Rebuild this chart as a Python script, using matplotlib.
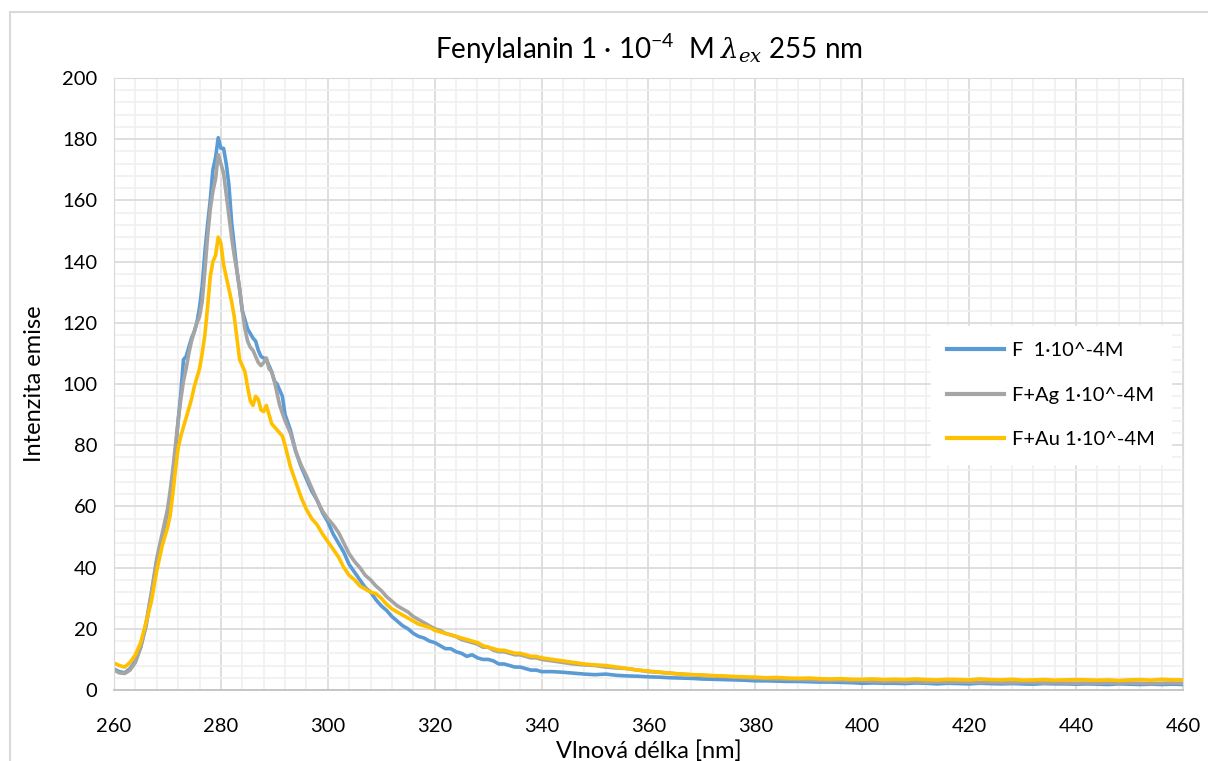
import matplotlib
matplotlib.use("Agg")
import matplotlib.pyplot as plt
from matplotlib.ticker import MultipleLocator
from matplotlib.lines import Line2D
import numpy as np

plt.rcParams['font.family'] = ['Lato', 'DejaVu Sans']
plt.rcParams['mathtext.fontset'] = 'custom'
plt.rcParams['mathtext.rm'] = 'Lato'
plt.rcParams['mathtext.it'] = 'DejaVu Serif:italic'

# vlnove delky: 1 nm do 270, 0.5 nm kolem piku, 1 nm do 340, pak po 2 nm
wl = np.concatenate([np.arange(260, 270.5, 1.0),
                     np.arange(270.5, 292.25, 0.5),
                     np.arange(293, 340.5, 1.0),
                     np.arange(342, 460.5, 2.0)])

f_only = [6.8, 6.0, 5.6, 7.0, 9.5, 14, 21, 31, 42, 50, 58,
          63, 70, 78, 88, 97, 108, 109, 112, 115, 117,
          120, 125, 132, 143, 152, 160, 170, 174, 180.5, 177,
          177, 172, 165, 153, 145, 137, 131, 124, 121, 118,
          116.5, 115, 114, 111, 109, 108.5, 108, 106, 104, 101,
          100, 98, 96, 90,
          85, 78, 73, 69, 65, 62, 58, 55, 51, 48,
          45, 41, 38.5, 36, 33.5, 32, 29.5, 27.5, 26, 24,
          22.5, 21, 20, 18.5, 17.5, 17, 16, 15.5, 14.5, 13.5,
          13.5, 12.5, 12, 11, 11.5, 10.5, 10, 10, 9.5, 8.5,
          8.5, 8, 7.5, 7.5, 7, 6.5, 6.5, 6,
          6, 5.8, 5.5, 5.2, 5, 5.2, 4.8, 4.6, 4.5, 4.3,
          4.2, 4.0, 3.9, 3.8, 3.6, 3.5, 3.4, 3.3, 3.2, 3.0,
          3.0, 2.9, 2.8, 2.8, 2.7, 2.6, 2.6, 2.5, 2.4, 2.2,
          2.3, 2.2, 2.2, 2.1, 2.3, 2.2, 2.0, 2.2, 2.1, 2.0,
          2.2, 2.1, 2.0, 2.1, 2.0, 1.9, 2.1, 2.0, 2.0, 1.9,
          2.0, 1.9, 1.8, 2.0, 1.9, 1.8, 1.9, 1.8, 1.9, 1.8]

f_ag = [6.5, 5.6, 5.4, 6.5, 9.0, 14, 22, 32, 43, 51, 59,
        65, 72, 80, 88, 95, 101, 105, 110, 114, 117,
        120, 122, 127, 137, 148, 157, 163, 167, 175, 172,
        169, 162, 155, 148, 142, 137, 131, 124, 118, 114,
        112, 111, 109, 107, 106, 107, 108.5, 105, 104, 101,
        97, 93, 90.5, 88,
        84, 78, 73.5, 70, 66, 62, 58.5, 56, 54, 51.5,
        48, 44.5, 42, 40, 37.5, 36, 34, 32.5, 30.5, 29,
        27.5, 26.5, 25.5, 24, 23, 22, 21, 20, 19.5, 18.5,
        18, 17.5, 16.5, 16, 15.5, 15, 14, 14, 13, 12.5,
        12.5, 12, 11.5, 11.5, 11, 10.5, 10.5, 10,
        9.5, 9, 8.5, 8.2, 8, 7.5, 7.2, 7, 6.5, 6,
        5.8, 5.5, 5.2, 5, 4.8, 4.6, 4.4, 4.2, 4, 3.8,
        3.7, 3.6, 3.5, 3.4, 3.3, 3.2, 3.1, 3.1, 3.0, 3.0,
        2.8, 2.7, 2.8, 2.6, 2.7, 2.5, 2.6, 2.5, 2.6, 2.5,
        2.4, 2.5, 2.4, 2.3, 2.5, 2.4, 2.3, 2.4, 2.3, 2.2,
        2.3, 2.2, 2.3, 2.2, 2.3, 2.2, 2.1, 2.2, 2.3, 2.2]

f_au = [8.8, 8.0, 7.5, 9.0, 11.5, 15.5, 22, 29, 39, 47, 53,
        57, 64, 72, 79, 83, 86, 89, 92, 95, 99,
        102, 105, 110, 116, 125, 135, 140, 142, 148, 146,
        139, 135, 131, 127, 122, 115, 108, 106, 104, 99,
        94.5, 93, 96, 95, 91.5, 91, 93, 90, 87, 86,
        85, 84, 83, 80,
        73, 68, 63, 59, 56, 54, 51, 48.5, 46, 43.5,
        40, 37.5, 36, 34, 33, 32, 31.5, 30, 28, 26.5,
        25.5, 24.5, 23.5, 22.5, 21.5, 21, 20.5, 19.5, 19, 18.5,
        18, 17.5, 17, 16.5, 16, 15.5, 14.5, 14, 13.5, 13,
        13, 12.5, 12, 12, 11.5, 11, 11, 10.5,
        10, 9.5, 9, 8.5, 8.2, 8, 7.5, 7, 6.5, 6.2,
        5.8, 5.5, 5.2, 5, 4.9, 4.7, 4.6, 4.4, 4.3, 4.2,
        4.0, 4.1, 3.9, 3.8, 3.9, 3.7, 3.6, 3.7, 3.5, 3.5,
        3.6, 3.4, 3.5, 3.4, 3.6, 3.4, 3.3, 3.5, 3.4, 3.3,
        3.6, 3.4, 3.3, 3.5, 3.2, 3.3, 3.4, 3.2, 3.3, 3.4,
        3.3, 3.2, 3.3, 3.1, 3.3, 3.4, 3.2, 3.5, 3.3, 3.3]

labels = ['F  1·10^-4M', 'F+Ag 1·10^-4M', 'F+Au 1·10^-4M']
colors = ['#5B9BD5', '#A5A5A5', '#FFC000']

fig = plt.figure(figsize=(12.08, 7.61), dpi=100)
# ramecek grafu
fig.add_artist(Line2D([10/1208, 10/1208], [0, 1 - 12/761], transform=fig.transFigure,
                      color='#d9d9d9', lw=1.5))
fig.add_artist(Line2D([10/1208, 1], [1 - 12/761, 1 - 12/761], transform=fig.transFigure,
                      color='#d9d9d9', lw=1.5))

ax = fig.add_axes([114/1208, 1 - 690/761, (1183 - 114)/1208, (690 - 78)/761])

for y, lab, c in zip([f_only, f_ag, f_au], labels, colors):
    ax.plot(wl, y, color=c, lw=2.6, label=lab, solid_joinstyle='round')

ax.set_xlim(260, 460)
ax.set_ylim(0, 200)
ax.xaxis.set_major_locator(MultipleLocator(20))
ax.xaxis.set_minor_locator(MultipleLocator(4))
ax.yaxis.set_major_locator(MultipleLocator(20))
ax.yaxis.set_minor_locator(MultipleLocator(4))
ax.grid(which='major', color='#d9d9d9', lw=1.2)
ax.grid(which='minor', color='#f0f0f0', lw=1.2)
ax.set_axisbelow(True)
ax.tick_params(which='both', length=0, labelsize=14.5, colors='#000000')
ax.tick_params(axis='x', pad=20)
ax.tick_params(axis='y', pad=12)
for s in ['top', 'right', 'left']:
    ax.spines[s].set_color('#d9d9d9')
ax.spines['bottom'].set_color('#bfbfbf')
ax.spines['bottom'].set_linewidth(1.2)

ax.set_xlabel('Vlnová délka [nm]', fontsize=17, labelpad=4)
ax.set_ylabel('Intenzita emise', fontsize=17, labelpad=12)
ax.set_title(r'Fenylalanin 1 · 10$^{\mathrm{-4}}$  M $\lambda_{ex}$ 255 nm', fontsize=20, pad=14)

leg = ax.legend(loc='center right', bbox_to_anchor=(0.998, 0.482), fontsize=14.5,
                frameon=True, fancybox=False, edgecolor='white', framealpha=1,
                handlelength=2.8, handletextpad=0.4, labelspacing=1.35, borderpad=0.8)
for h in leg.get_lines():
    h.set_linewidth(3)

fig.savefig('out.png', dpi=100)
